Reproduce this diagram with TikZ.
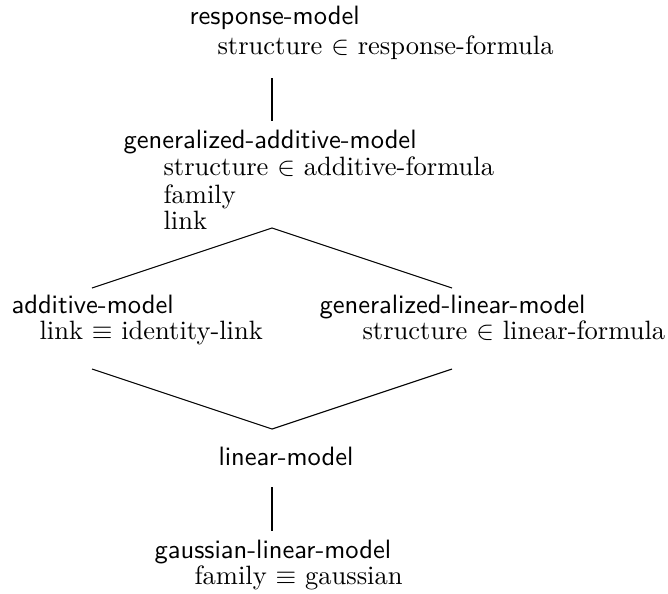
\documentclass[tikz,border=0pt]{standalone}
\begin{document}
\begin{tikzpicture}[x=0.377pt,y=-0.377pt,
  cls/.style={anchor=west,inner sep=0pt,font=\sffamily,text height=6.4pt,text depth=1.8pt},
  attr/.style={anchor=west,inner sep=0pt,text height=6.4pt,text depth=1.8pt},
  edge/.style={line width=0.4pt},
  vedge/.style={line width=0.8pt}]
\useasboundingbox (0,0) rectangle (668,593);
% response-model
\node[cls]  (rm)  at (189,18) {response-model};
\node[attr] (rm1) at (217,48) {structure $\in$ response-formula};
% generalized-additive-model
\node[cls]  (gam)  at (123,142) {generalized-additive-model};
\node[attr] (gam1) at (163,169) {structure $\in$ additive-formula};
\node[attr] (gam2) at (163,197) {family};
\node[attr] (gam3) at (163,223) {link};
% additive-model
\node[cls]  (am)  at (11,307) {additive-model};
\node[attr] (am1) at (39,333) {link $\equiv$ identity-link};
% generalized-linear-model
\node[cls]  (glm)  at (319,307) {generalized-linear-model};
\node[attr] (glm1) at (362,333) {structure $\in$ linear-formula};
% linear-model
\node[cls]  (lm) at (218,459) {linear-model};
% gaussian-linear-model
\node[cls]  (glin)  at (154,552) {gaussian-linear-model};
\node[attr] (glin1) at (194,578) {family $\equiv$ gaussian};
% connector coordinates
\coordinate (v1a) at (272,78);
\coordinate (v1b) at (272,121);
\coordinate (top) at (272,228);
\coordinate (tl) at (92,288);
\coordinate (tr) at (452,288);
\coordinate (bl) at (92,369);
\coordinate (br) at (452,369);
\coordinate (bot) at (272,429);
\coordinate (v2a) at (272,487);
\coordinate (v2b) at (272,531);
\draw[vedge] (v1a) -- (v1b);
\draw[edge] (tl) -- (top) -- (tr);
\draw[edge] (bl) -- (bot) -- (br);
\draw[vedge] (v2a) -- (v2b);
\end{tikzpicture}
\end{document}
